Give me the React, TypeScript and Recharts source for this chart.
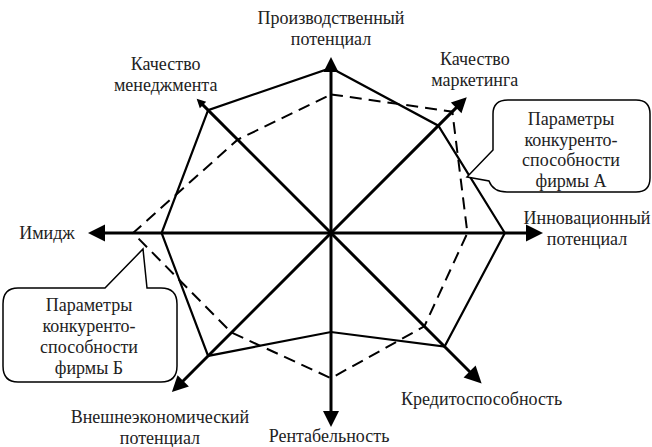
import { RadarChart, Radar, PolarAngleAxis, PolarRadiusAxis } from "recharts";

// axis categories, clockwise from the top
const categories = [
  "Производственный\nпотенциал",
  "Качество\nмаркетинга",
  "Инновационный\nпотенциал",
  "Кредитоспособность",
  "Рентабельность",
  "Внешнеэкономический\nпотенциал",
  "Имидж",
  "Качество\nменеджмента",
];

// scores on a 0..10 scale
const firmA = [7.5, 6.9, 7.9, 7.3, 4.5, 7.9, 7.7, 7.9];
const firmB = [6.3, 7.8, 6.2, 6.0, 6.6, 6.4, 9.0, 6.0];

const calloutA = ["Параметры", "конкуренто-", "способности", "фирмы А"];
const calloutB = ["Параметры", "конкуренто-", "способности", "фирмы Б"];

const data = categories.map((name, i) => ({ name, a: firmA[i], b: firmB[i] }));

const W = 652;
const H = 447;
const CX = 331;
const CY = 233;
const R = 220;
const FONT = "'Liberation Serif', 'Times New Roman', serif";
const TEXT = "#222";

// drawing details for the arrows and their labels
const ARROW_LEN = [176, 192, 212, 213, 194, 225, 243, 190];
const HEAD = [15, 15, 17, 17, 16, 16, 17, 9];
const LABEL_POS: [number, number][] = [
  [0, -33],
  [8, -32],
  [44, -9],
  [0, 21],
  [-2, 15],
  [-12, 31],
  [-41, 6],
  [-31, -29],
];
const LINE_H = 21;

function AxisTick(props: any) {
  const { x, y, payload } = props;
  let index = props.index;
  if (typeof index !== "number") index = categories.indexOf(payload.value);
  const dx = x - CX;
  const dy = y - CY;
  const d = Math.hypot(dx, dy) || 1;
  const ux = dx / d;
  const uy = dy / d;
  const len = ARROW_LEN[index];
  const tx = CX + ux * len;
  const ty = CY + uy * len;
  const hl = HEAD[index];
  const hw = hl * 0.5;
  const bx = tx - ux * hl;
  const by = ty - uy * hl;
  const px = -uy;
  const py = ux;
  const lines = String(payload.value).split("\n");
  const [lx, ly] = LABEL_POS[index];
  return (
    <g>
      <line x1={CX} y1={CY} x2={bx + ux * 2} y2={by + uy * 2} stroke="#000" strokeWidth={3} />
      <polygon
        points={`${tx},${ty} ${bx + px * hw},${by + py * hw} ${bx - px * hw},${by - py * hw}`}
        fill="#000"
      />
      {lines.map((t, k) => (
        <text
          key={k}
          x={tx + lx}
          y={ty + ly + k * LINE_H}
          textAnchor="middle"
          fontFamily={FONT}
          fontSize={18}
          fill={TEXT}
        >
          {t}
        </text>
      ))}
    </g>
  );
}

function Callouts() {
  const textProps = { textAnchor: "middle" as const, fontFamily: FONT, fontSize: 18, fill: TEXT };
  return (
    <svg width={W} height={H} style={{ position: "absolute", left: 0, top: 0, pointerEvents: "none" }}>
      <path
        d="M 508 100 H 636 Q 650 100 650 114 V 178 Q 650 192 636 192 H 507 Q 493 192 489 181 L 467 177 L 493 150 V 114 Q 493 100 508 100 Z"
        fill="#fff"
        stroke="#000"
        strokeWidth={1.5}
      />
      {calloutA.map((t, k) => (
        <text key={k} x={571} y={125 + k * 20.5} {...textProps}>
          {t}
        </text>
      ))}
      <path
        d="M 18 288 H 105 L 143 249 L 147 288 H 161 Q 177 288 177 304 V 366 Q 177 382 161 382 H 18 Q 3 382 3 366 V 304 Q 3 288 18 288 Z"
        fill="#fff"
        stroke="#000"
        strokeWidth={1.5}
      />
      {calloutB.map((t, k) => (
        <text key={k} x={89} y={311 + k * 21} {...textProps}>
          {t}
        </text>
      ))}
    </svg>
  );
}

export default function App() {
  return (
    <div style={{ position: "absolute", left: 0, top: 0, width: W, height: H, background: "#fff" }}>
      <RadarChart
        width={W}
        height={H}
        data={data}
        cx={CX}
        cy={CY}
        outerRadius={R}
        margin={{ top: 0, right: 0, bottom: 0, left: 0 }}
      >
        <PolarRadiusAxis domain={[0, 10]} tick={false} axisLine={false} />
        <PolarAngleAxis dataKey="name" tick={<AxisTick />} axisLine={false} tickLine={false} />
        <Radar
          dataKey="b"
          stroke="#000"
          strokeWidth={2}
          strokeDasharray="12 7"
          fill="none"
          fillOpacity={0}
          dot={false}
          isAnimationActive={false}
        />
        <Radar
          dataKey="a"
          stroke="#000"
          strokeWidth={2.2}
          fill="none"
          fillOpacity={0}
          dot={false}
          isAnimationActive={false}
        />
      </RadarChart>
      <Callouts />
    </div>
  );
}
